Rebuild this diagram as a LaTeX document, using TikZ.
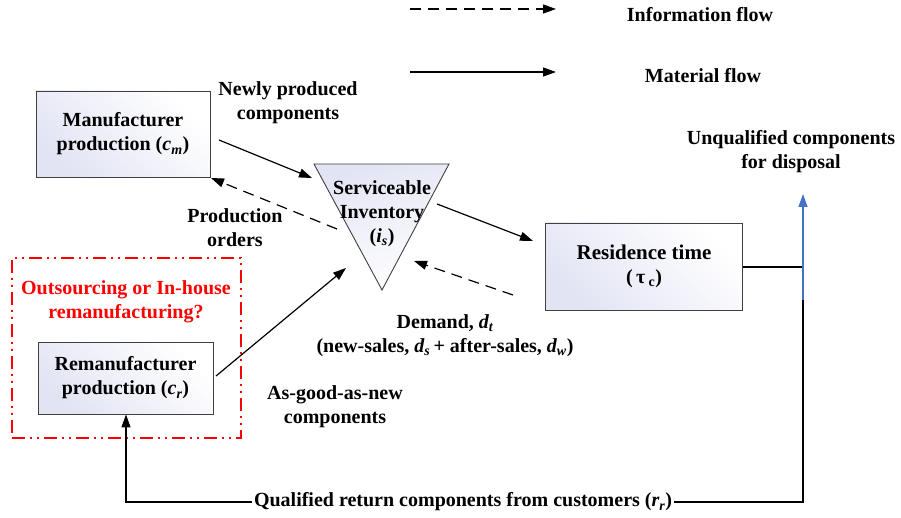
\documentclass[tikz,border=0pt]{standalone}
\usepackage{fontspec}
\setmainfont{Liberation Serif}
\usetikzlibrary{arrows.meta}
\definecolor{boxfill}{RGB}{226,228,244}
\definecolor{blueline}{RGB}{68,114,196}
\begin{document}
\begin{tikzpicture}[x=1pt,y=-1pt,
  every node/.style={font=\bfseries\fontsize{20}{24}\selectfont, inner sep=0pt},
  lbl/.style={align=center},
  procbox/.style={draw=black!75, line width=0.9pt, left color=boxfill, right color=white, shading angle=135},
  mat/.style={line width=1.2pt, -{Triangle[length=13pt,width=9pt]}},
  info/.style={line width=1.2pt, dash pattern=on 11pt off 7pt, -{Triangle[length=13pt,width=9pt]}},
  plain/.style={line width=1.2pt}]
\useasboundingbox (0,0) rectangle (901,518);
% legend
\coordinate (l1a) at (410,9); \coordinate (l1b) at (556,9);
\coordinate (l2a) at (410,72); \coordinate (l2b) at (556,72);
\draw[info] (l1a) -- (l1b);
\draw[mat] (l2a) -- (l2b);
\node (infolbl) at (700,15) {Information flow};
\node (matlbl) at (703,76) {Material flow};
% manufacturer
\node[procbox, minimum width=174pt, minimum height=86pt, lbl] (man) at (123,134) {Manufacturer\\production ({\itshape c}\textsubscript{\itshape m})};
\node[lbl] (newly) at (288,103) {Newly produced\\components};
% triangle inventory
\coordinate (tl) at (314,164); \coordinate (tr) at (449,164); \coordinate (tb) at (382,290);
\shade[left color=white, right color=boxfill, shading angle=200, draw=black!75, line width=0.9pt] (tl) -- (tr) -- (tb) -- cycle;
\node[lbl] (inv) at (382,214) {Serviceable\\Inventory\\({\itshape i}\textsubscript{\itshape s})};
\coordinate (invin1) at (312,178);
\coordinate (invout1) at (337,229);
\coordinate (invout2) at (437,204);
\coordinate (invin2) at (414,261);
\coordinate (invin3) at (346,268);
% residence
\node[procbox, minimum width=197pt, minimum height=87pt, lbl] (res) at (644,266.5) {\fontsize{21}{28}\selectfont Residence time\\\fontsize{20}{24}\selectfont(\,τ\,\textsubscript{c})};
% remanufacturer
\node[procbox, minimum width=175pt, minimum height=72pt, lbl] (rem) at (125.5,378) {Remanufacturer\\production ({\itshape c}\textsubscript{\itshape r})};
% red box
\node[draw=red, line width=1.5pt, dash pattern=on 13pt off 5pt on 2pt off 5pt on 2pt off 5pt, minimum width=229pt, minimum height=180pt] (redbox) at (126.5,348) {};
\node[lbl, text=red] (out) at (126,302) {Outsourcing or In-house\\remanufacturing?};
% labels
\node[lbl] (prod) at (235,228) {Production\\orders};
\node[lbl] (dem) at (445,336) {Demand, {\itshape d}\textsubscript{\itshape t}\\(new-sales, {\itshape d}\textsubscript{\itshape s}\,+ after-sales, {\itshape d}\textsubscript{\itshape w})};
\node[lbl] (agan) at (335,407) {As-good-as-new\\components};
\node[lbl] (unq) at (791,152) {Unqualified components\\for disposal};
\node[fill=white, inner xsep=2pt] (qual) at (463,502) {Qualified return components from customers ({\itshape r}\textsubscript{\itshape r})};
% connectors
\coordinate (manout) at (219,140);
\coordinate (manin) at (211,178);
\coordinate (remout) at (216,376);
\coordinate (resdem) at (513,295);
\coordinate (resin) at (533,241);
\coordinate (j1) at (803,267);
\coordinate (j2) at (803,300);
\coordinate (disp) at (803,194);
\coordinate (j3) at (803,502);
\coordinate (j4) at (126,502);
\draw[mat] (manout) -- (invin1);
\draw[info] (invout1) -- (manin);
\draw[mat] (invout2) -- (resin);
\draw[info] (resdem) -- (invin2);
\draw[mat] (remout) -- (invin3);
\draw[plain] (res.east |- j1) -- (j1);
\draw[plain] (j2) -- (j3) -- (qual.east);
\draw[mat] (qual.west) -- (j4) -- (rem.south -| j4);
\draw[line width=1.2pt, blueline, -{Triangle[length=13pt,width=9pt]}] (j2) -- (disp);
\end{tikzpicture}
\end{document}
